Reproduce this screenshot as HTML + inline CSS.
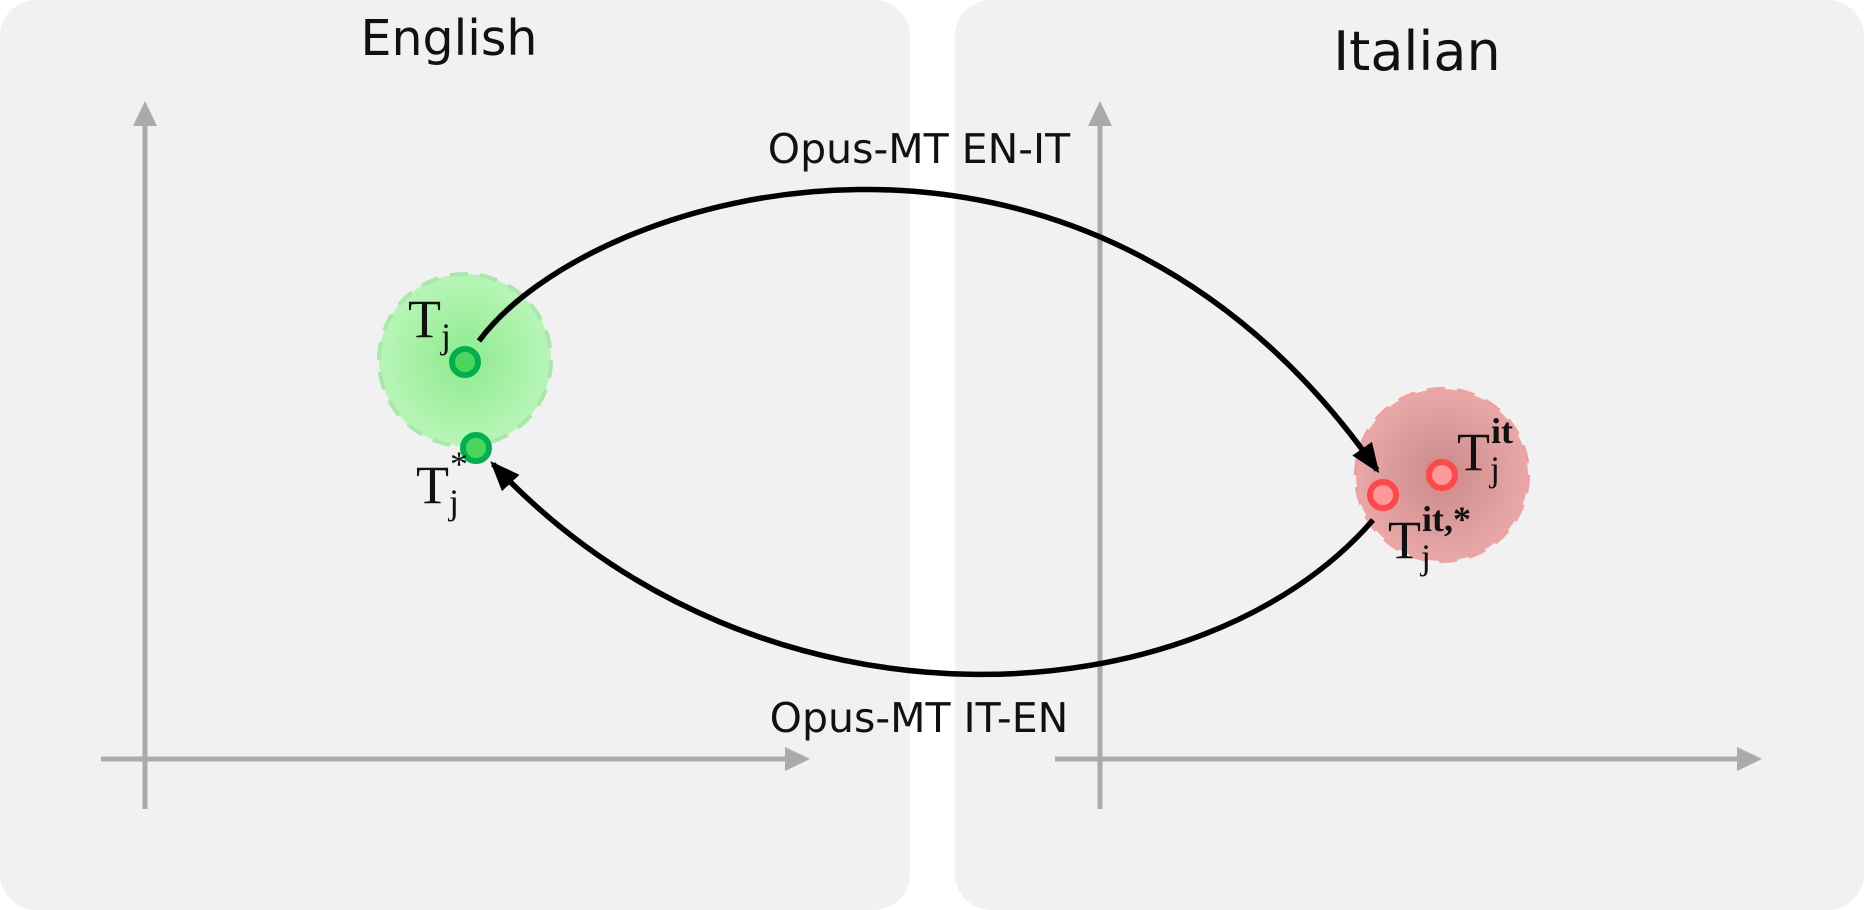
<!DOCTYPE html>
<html><head><meta charset="utf-8"><style>
html,body{margin:0;padding:0;background:#fff;}
svg{display:block;}
.ttl{font-family:"DejaVu Sans","Liberation Sans",sans-serif;fill:#111;}
.lbl{font-family:"DejaVu Sans","Liberation Sans",sans-serif;font-size:41px;fill:#111;}
.m{font-family:"Liberation Serif",serif;fill:#111;}
</style></head><body>
<svg width="1864" height="910" viewBox="0 0 1864 910">
<defs>
<radialGradient id="gg"><stop offset="0" stop-color="#8deb8d"/><stop offset="1" stop-color="#b8f5b8"/></radialGradient>
<radialGradient id="rg"><stop offset="0" stop-color="#c98a8a"/><stop offset="1" stop-color="#e9a8a8"/></radialGradient>
<marker id="ah2" markerWidth="30" markerHeight="30" refX="26" refY="15" orient="auto" markerUnits="userSpaceOnUse" viewBox="0 0 30 30"><path d="M0,3 L30,15 L0,27 z" fill="#000"/></marker>
</defs>
<rect x="0" y="0" width="910" height="910" rx="36" fill="#f1f1f1"/>
<rect x="955" y="0" width="909" height="910" rx="36" fill="#f1f1f1"/>
<text class="ttl" font-size="49" x="449" y="55" text-anchor="middle">English</text>
<text class="ttl" font-size="54" x="1417" y="70" text-anchor="middle">Italian</text>
<g stroke="#aaa" stroke-width="5" fill="#aaa">
<line x1="145" y1="809" x2="145" y2="122"/><path d="M145,101 L133,126 L157,126 z" stroke="none"/>
<line x1="101" y1="759" x2="790" y2="759"/><path d="M810,759 L785,747 L785,771 z" stroke="none"/>
</g>
<g stroke="#aaa" stroke-width="5" fill="#aaa">
<line x1="1100" y1="809" x2="1100" y2="122"/><path d="M1100,101 L1088,126 L1112,126 z" stroke="none"/>
<line x1="1055" y1="759" x2="1742" y2="759"/><path d="M1762,759 L1737,747 L1737,771 z" stroke="none"/>
</g>
<circle cx="465" cy="360" r="86" fill="url(#gg)" stroke="#a8e8a8" stroke-width="4" stroke-dasharray="18,12"/>
<circle cx="1442" cy="475" r="86" fill="url(#rg)" stroke="#f0a0a0" stroke-width="4" stroke-dasharray="18,12"/>
<path d="M479,341 C590,190 1080,45 1377,470" fill="none" stroke="#000" stroke-width="5.5" marker-end="url(#ah2)"/>
<path d="M1373,520 C1200,720 760,750 493,464" fill="none" stroke="#000" stroke-width="5.5" marker-end="url(#ah2)"/>
<circle cx="465" cy="362" r="13" fill="#4cd65c" stroke="#00b050" stroke-width="6"/>
<circle cx="476" cy="448" r="13" fill="#4cd65c" stroke="#00b050" stroke-width="6"/>
<circle cx="1442" cy="475" r="13" fill="#ff9a9a" stroke="#ff4848" stroke-width="6"/>
<circle cx="1383" cy="495" r="13" fill="#ff9a9a" stroke="#ff4848" stroke-width="6"/>
<text class="m" x="408" y="337" font-size="54">T<tspan font-size="36" dy="11">j</tspan></text>
<text class="m" x="416" y="503" font-size="54">T<tspan font-size="36" dy="11">j</tspan><tspan font-size="36" dx="-9" dy="-38">*</tspan></text>
<text class="m" x="1457" y="470" font-size="54">T<tspan font-size="36" dy="11">j</tspan><tspan font-size="36" font-weight="bold" dx="-9" dy="-38">it</tspan></text>
<text class="m" x="1388" y="558" font-size="54">T<tspan font-size="36" dy="11">j</tspan><tspan font-size="36" font-weight="bold" dx="-9" dy="-38">it,*</tspan></text>
<text class="lbl" x="919" y="163" text-anchor="middle">Opus-MT EN-IT</text>
<text class="lbl" x="919" y="732" text-anchor="middle">Opus-MT IT-EN</text>
</svg>
</body></html>
